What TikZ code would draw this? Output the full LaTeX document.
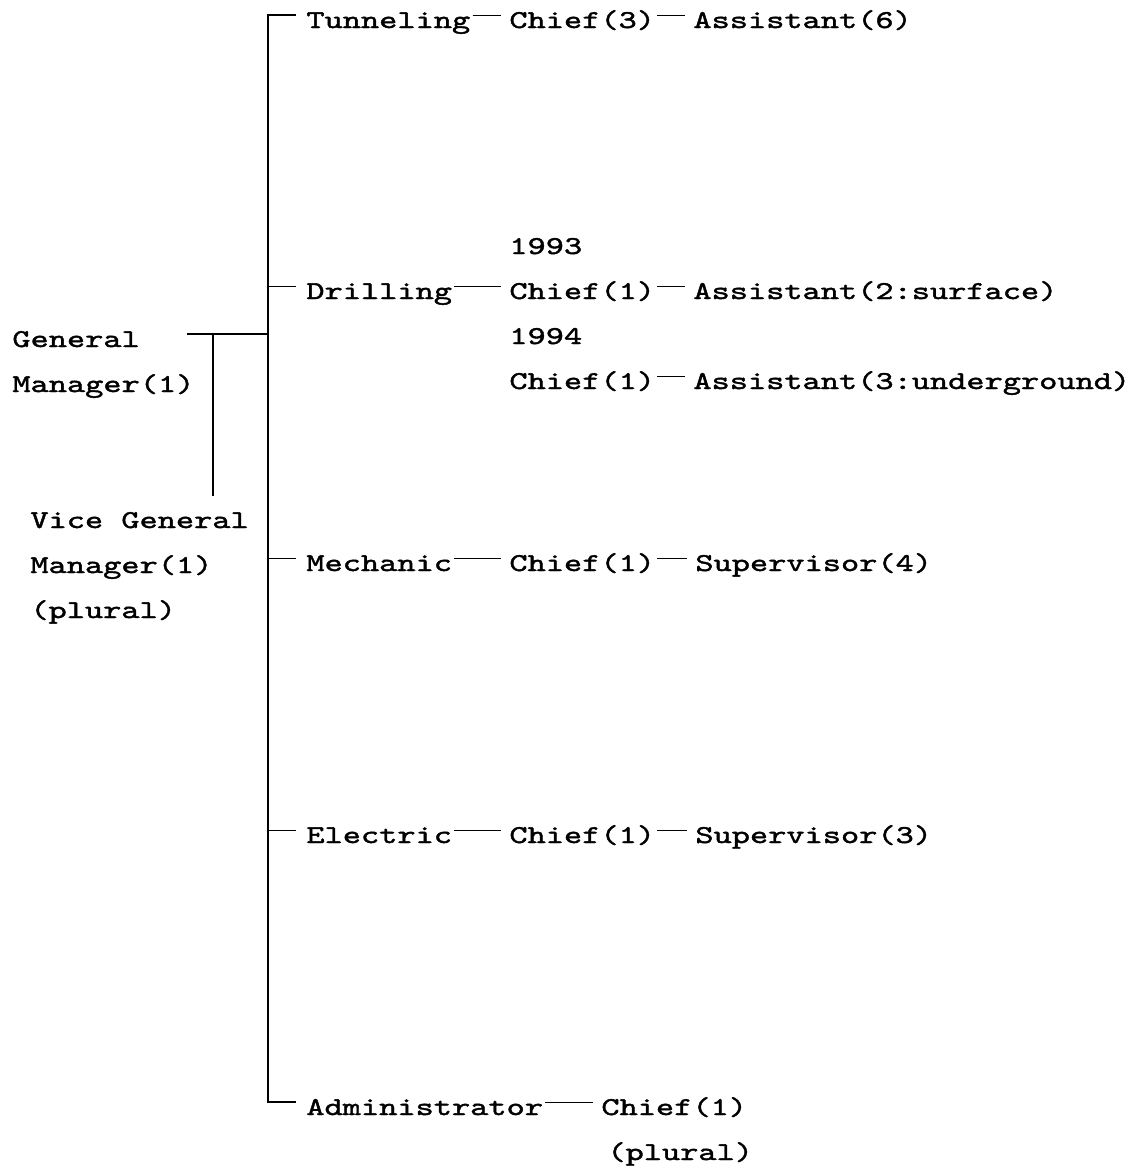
\documentclass[tikz,border=0pt]{standalone}
\usepackage{fontspec}
\newfontfamily\typew[Extension=.otf, FakeStretch=1.35, FakeBold=1.6]{lmmono10-regular}
\usetikzlibrary{calc}

\tikzset{
  lbl/.style={anchor=base west, inner sep=0pt, text height=16pt, text depth=3pt,
    font=\typew\fontsize{12.84}{20}\selectfont},
  link/.style={line width=0.5pt, shorten <=1pt, shorten >=4pt},
  rule/.style={line width=0.8pt},
  trunk/.style={line width=1.2pt, shorten <=5pt, shorten >=5pt},
}

\begin{document}
\begin{tikzpicture}[x=0.5pt, y=-0.5pt]
  \useasboundingbox (0,0) rectangle (1138,1168);
  % columns of the two vertical rules
  \coordinate (tr) at (268,0);
  \coordinate (vj) at (213,0);
  % managers
  \node[lbl] (gm1) at (12,347) {General};
  \node[lbl] (gm2) at (12,392) {Manager(1)};
  \node[lbl] (vgm1) at (30,528) {Vice General};
  \node[lbl] (vgm2) at (30,573) {Manager(1)};
  \node[lbl] (vgm3) at (30,618) {(plural)};
  % departments
  \node[lbl] (tun) at (306,28) {Tunneling};
  \node[lbl] (dri) at (306,299) {Drilling};
  \node[lbl] (mec) at (306,571) {Mechanic};
  \node[lbl] (ele) at (306,843) {Electric};
  \node[lbl] (adm) at (306,1115) {Administrator};
  % chiefs and staff
  \node[lbl] (tunc) at (509,28) {Chief(3)};
  \node[lbl] (tuna) at (693,28) {Assistant(6)};
  \node[lbl] (y93) at (509,254) {1993};
  \node[lbl] (dric) at (509,299) {Chief(1)};
  \node[lbl] (dria) at (693,299) {Assistant(2:surface)};
  \node[lbl] (y94) at (509,344) {1994};
  \node[lbl] (dricb) at (509,389) {Chief(1)};
  \node[lbl] (driab) at (693,389) {Assistant(3:underground)};
  \node[lbl] (mecc) at (509,571) {Chief(1)};
  \node[lbl] (meca) at (695,571) {Supervisor(4)};
  \node[lbl] (elec) at (509,843) {Chief(1)};
  \node[lbl] (elea) at (695,843) {Supervisor(3)};
  \node[lbl] (admc) at (601,1115) {Chief(1)};
  \node[lbl] (admp) at (607,1160) {(plural)};

  % trunk with top and bottom corners
  \draw[trunk] (tun.west) -- (tun.west -| tr) -- (adm.west -| tr) -- (adm.west);
  \foreach \d in {dri, mec, ele}
    \draw[link, shorten <=0pt, shorten >=5pt] (\d.west -| tr) -- (\d.west);
  \foreach \a/\b in {tun/tunc, tunc/tuna, dri/dric, dric/dria, dricb/driab,
                     mec/mecc, mecc/meca, ele/elec, elec/elea, adm/admc}
    \draw[link] (\a.east) -- (\b.west);
  % general manager to trunk, and down to the vice
  \draw[rule] ([xshift=-4pt]gm2.east |- gm1.west) -- (gm1.west -| tr);
  \draw[rule] (gm1.west -| vj) -- (vgm1.north -| vj);
\end{tikzpicture}
\end{document}
